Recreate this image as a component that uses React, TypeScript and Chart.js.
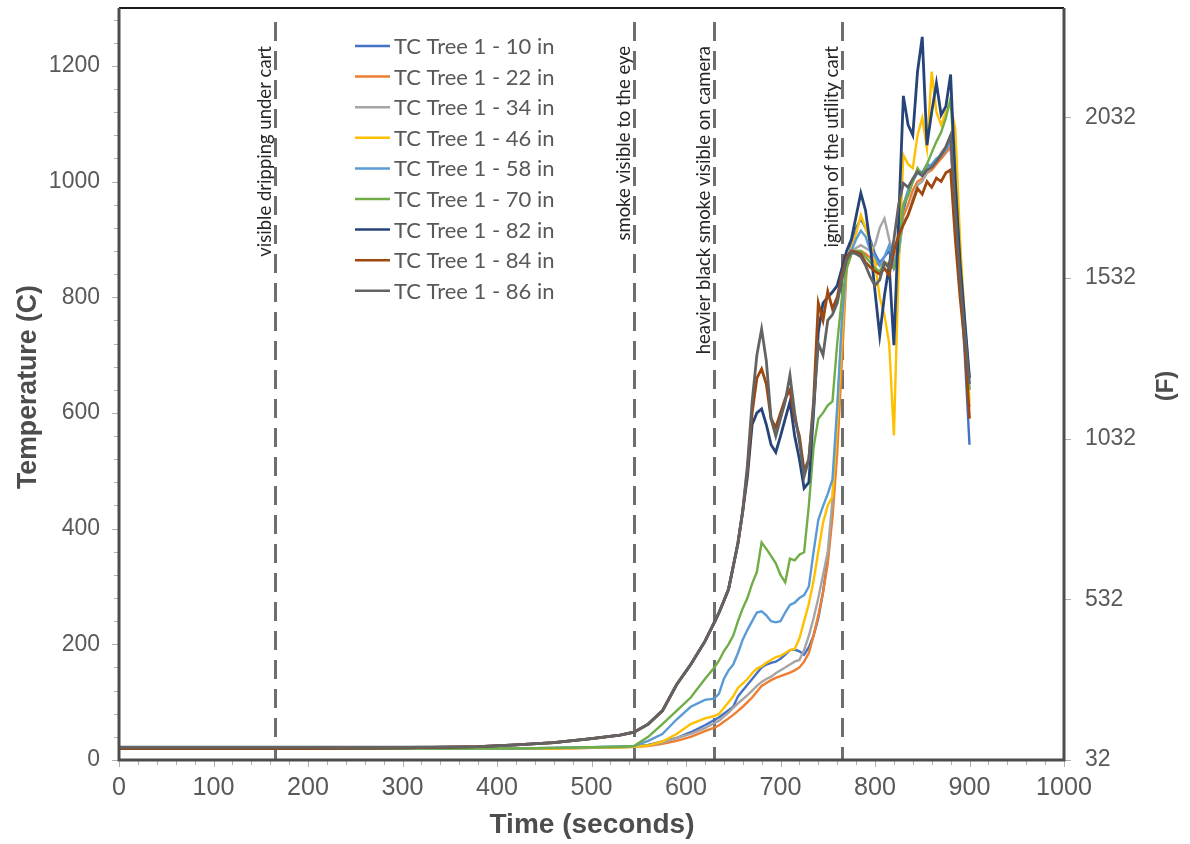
import React, { useEffect, useRef } from 'react';
import { Chart, registerables } from 'chart.js';

Chart.register(...registerables);

// Time axis (seconds)
const TIMES = [0, 100, 200, 300, 380, 420, 460, 500, 530, 545, 560, 575, 590, 605, 620,
  630, 635, 640, 645, 650, 655, 660, 665, 670, 675,
  680, 685, 690, 695, 700, 705, 710, 715, 720, 725,
  730, 735, 740, 745, 750, 755, 760, 765, 770, 775,
  780, 785, 790, 795, 800, 805, 810, 815, 820, 825,
  830, 835, 840, 845, 850, 855, 860, 865, 870, 875,
  880, 885, 890, 895, 900];

// Temperatures (C)
const TC10 = [20, 20, 20, 20, 20, 20, 21, 22, 23, 24, 26, 32, 38, 48, 60,
  69, 74, 80, 86, 92, 110, 120, 130, 140, 150,
  160, 165, 168, 170, 175, 182, 190, 191, 188, 182,
  195, 215, 245, 290, 350, 430, 560, 730, 860, 890,
  920, 935, 920, 900, 875, 860, 870, 880, 850, 870,
  950, 980, 1000, 1020, 1015, 1030, 1025, 1035, 1040, 1050,
  1060, 950, 830, 700, 545];
const TC22 = [20, 20, 20, 20, 20, 20, 20, 21, 22, 23, 24, 28, 33, 40, 50,
  56, 60, 66, 72, 78, 85, 92, 100, 108, 118,
  128, 133, 138, 142, 145, 148, 151, 155, 160, 170,
  185, 215, 250, 290, 340, 420, 530, 690, 850, 875,
  880, 880, 875, 868, 860, 855, 860, 858, 870, 890,
  940, 960, 985, 1000, 1005, 1015, 1020, 1030, 1040, 1050,
  1060, 950, 830, 720, 610];
const TC34 = [20, 20, 20, 20, 20, 20, 20, 21, 22, 23, 25, 30, 38, 45, 55,
  64, 68, 75, 82, 90, 98, 105, 112, 120, 128,
  135, 140, 144, 150, 155, 160, 165, 170, 173, 190,
  215, 245, 280, 320, 360, 450, 600, 750, 860, 880,
  885, 890, 885, 880, 890, 920, 936, 900, 870, 880,
  930, 942, 970, 994, 1000, 1015, 1025, 1035, 1050, 1060,
  1069, 960, 840, 750, 660];
const TC46 = [20, 20, 20, 20, 20, 20, 20, 21, 22, 23, 25, 32, 45, 62, 72,
  76, 80, 90, 100, 110, 125, 132, 140, 150, 158,
  162, 168, 173, 178, 180, 185, 190, 192, 210, 240,
  270, 310, 360, 410, 440, 455, 580, 730, 860, 885,
  910, 942, 920, 895, 860, 800, 769, 720, 561, 850,
  1046, 1030, 1023, 1080, 1110, 1057, 1190, 1120, 1098, 1120,
  1133, 1090, 900, 760, 620];
const TC58 = [20, 20, 20, 20, 20, 20, 21, 22, 23, 24, 33, 45, 70, 92, 104,
  106, 115, 140, 155, 165, 185, 208, 225, 240, 255,
  257, 250, 240, 238, 240, 255, 268, 272, 280, 285,
  300, 360, 415, 439, 460, 485, 610, 760, 860, 880,
  900, 915, 905, 880, 870, 855, 870, 890, 860, 880,
  960, 985, 1000, 1015, 1010, 1025, 1030, 1040, 1045, 1055,
  1070, 960, 840, 740, 640];
const TC70 = [20, 20, 20, 20, 20, 20, 21, 22, 23, 24, 40, 62, 85, 108, 140,
  160, 172, 188, 200, 215, 240, 262, 280, 305, 325,
  376, 365, 353, 340, 320, 307, 348, 345, 355, 359,
  440, 540, 590, 600, 613, 620, 720, 800, 850, 875,
  880, 880, 870, 860, 850, 845, 860, 855, 850, 880,
  960, 975, 1000, 1023, 1010, 1030, 1050, 1069, 1085, 1110,
  1144, 1000, 850, 750, 640];
const TC82 = [20, 20, 20, 21, 23, 26, 30, 37, 43, 48, 62, 85, 130, 165, 205,
  238, 255, 275, 295, 335, 375, 430, 490, 580, 600,
  607, 580, 545, 532, 560, 590, 619, 560, 520, 470,
  480, 600, 740, 790, 800, 809, 820, 850, 880, 900,
  940, 980, 950, 890, 810, 734, 803, 855, 717, 931,
  1148, 1098, 1080, 1190, 1250, 1063, 1120, 1170, 1115, 1130,
  1185, 1000, 860, 760, 660];
const TC84 = [20, 20, 20, 21, 23, 26, 30, 37, 43, 48, 62, 85, 130, 165, 205,
  238, 255, 275, 295, 335, 375, 430, 500, 600, 660,
  676, 650, 590, 575, 600, 625, 640, 590, 560, 500,
  520, 620, 790, 760, 810, 780, 800, 840, 870, 880,
  878, 875, 860, 852, 845, 840, 850, 838, 880, 907,
  925, 942, 965, 988, 978, 1000, 990, 1006, 1000, 1015,
  1020, 900, 800, 720, 590];
const TC86 = [22, 22, 22, 22, 23, 26, 30, 37, 43, 48, 62, 85, 130, 165, 205,
  238, 255, 275, 295, 335, 375, 430, 510, 620, 700,
  745, 690, 590, 560, 590, 620, 665, 600, 550, 490,
  520, 610, 720, 700, 760, 770, 790, 830, 865, 878,
  875, 870, 855, 835, 820, 830, 860, 850, 900, 960,
  997, 990, 1005, 1017, 1010, 1020, 1025, 1035, 1046, 1060,
  1080, 950, 830, 740, 650];

const SERIES_VALUES = [TC10, TC22, TC34, TC46, TC58, TC70, TC82, TC84, TC86];
const SERIES_LABELS = ['TC Tree 1 - 10 in', 'TC Tree 1 - 22 in', 'TC Tree 1 - 34 in',
  'TC Tree 1 - 46 in', 'TC Tree 1 - 58 in', 'TC Tree 1 - 70 in', 'TC Tree 1 - 82 in',
  'TC Tree 1 - 84 in', 'TC Tree 1 - 86 in'];
const SERIES_COLORS = ['#4472C4', '#ED7D31', '#A5A5A5', '#FFC000', '#5B9BD5', '#70AD47',
  '#264478', '#9E480E', '#636363'];

const EVENT_TIMES = [165, 545, 630, 765];
const EVENT_LABELS = ['visible dripping under cart', 'smoke visible to the eye',
  'heavier black smoke visible on camera', 'ignition of the utility cart'];

const X_TICKS = [0, 100, 200, 300, 400, 500, 600, 700, 800, 900, 1000];
const C_TICKS = [0, 200, 400, 600, 800, 1000, 1200];
const F_TICKS = [32, 532, 1032, 1532, 2032];

const C_MAX = 1300;
const F_MIN = 32;
const F_MAX = C_MAX * 1.8 + 32;

const TICK_COLOR = '#595959';
const AREA = { left: 119, top: 8, right: 1064, bottom: 760 };

function drawFitted(ctx: CanvasRenderingContext2D, text: string, cx: number, cy: number,
  font: string, targetW: number, rot: number, color: string) {
  ctx.save();
  ctx.font = font;
  const w = ctx.measureText(text).width;
  const s = targetW > 0 ? targetW / w : 1;
  ctx.translate(cx, cy);
  ctx.rotate(rot);
  ctx.scale(s, 1);
  ctx.fillStyle = color;
  ctx.textAlign = 'center';
  ctx.textBaseline = 'middle';
  ctx.fillText(text, 0, 0);
  ctx.restore();
}

const zeroPad = (s: any) => {
  s.paddingTop = 0;
  s.paddingBottom = 0;
  s.paddingLeft = 0;
  s.paddingRight = 0;
};

const decorPlugin = {
  id: 'decor',
  beforeDatasetsDraw(chart: any) {
    const { ctx, chartArea: a, scales } = chart;
    const x = scales.x;
    ctx.save();
    ctx.strokeStyle = '#6e6e6e';
    ctx.lineWidth = 3;
    ctx.setLineDash([19, 10]);
    EVENT_TIMES.forEach((t) => {
      const px = Math.round(x.getPixelForValue(t)) + 0.5;
      ctx.beginPath();
      ctx.moveTo(px, a.top + 14);
      ctx.lineTo(px, a.bottom);
      ctx.stroke();
    });
    ctx.restore();
  },
  afterDatasetsDraw(chart: any) {
    const { ctx, chartArea: a, scales } = chart;
    const x = scales.x;
    const y = scales.y;
    const yF = scales.yF;
    ctx.save();

    // event labels
    ctx.fillStyle = '#262626';
    ctx.font = "18.5px Lato, 'Open Sans', sans-serif";
    ctx.textAlign = 'right';
    ctx.textBaseline = 'middle';
    EVENT_TIMES.forEach((t, i) => {
      const px = x.getPixelForValue(t);
      ctx.save();
      ctx.translate(px - 10, 46);
      ctx.rotate(-Math.PI / 2);
      ctx.fillText(EVENT_LABELS[i], 0, 0);
      ctx.restore();
    });

    // legend
    ctx.font = "22px Lato, 'Open Sans', sans-serif";
    ctx.textAlign = 'left';
    SERIES_LABELS.forEach((lab, i) => {
      const ly = 46 + i * 30.6;
      ctx.strokeStyle = SERIES_COLORS[i];
      ctx.lineWidth = 2.5;
      ctx.beginPath();
      ctx.moveTo(355, ly);
      ctx.lineTo(390, ly);
      ctx.stroke();
      ctx.fillStyle = TICK_COLOR;
      ctx.fillText(lab, 394, ly + 1);
    });

    // tick marks
    ctx.strokeStyle = '#b0b0b0';
    ctx.lineWidth = 1;
    for (let v = 0; v <= 1000; v += 20) {
      const px = Math.round(x.getPixelForValue(v)) + 0.5;
      const len = v % 100 === 0 ? 7 : 5;
      ctx.beginPath();
      ctx.moveTo(px, a.bottom);
      ctx.lineTo(px, a.bottom + len);
      ctx.stroke();
    }
    for (let v = 0; v <= 1280; v += 40) {
      const py = Math.round(y.getPixelForValue(v)) + 0.5;
      const len = v % 200 === 0 ? 7 : 5;
      ctx.beginPath();
      ctx.moveTo(a.left - len, py);
      ctx.lineTo(a.left, py);
      ctx.stroke();
    }
    F_TICKS.forEach((f) => {
      const py = Math.round(yF.getPixelForValue(f)) + 0.5;
      ctx.beginPath();
      ctx.moveTo(a.right, py);
      ctx.lineTo(a.right + 7, py);
      ctx.stroke();
    });

    // frame
    ctx.setLineDash([]);
    ctx.strokeStyle = '#1a1a1a';
    ctx.lineWidth = 2;
    ctx.beginPath();
    ctx.moveTo(a.left, a.top);
    ctx.lineTo(a.right, a.top);
    ctx.stroke();
    ctx.strokeStyle = '#4d4d4d';
    ctx.lineWidth = 3;
    ctx.beginPath();
    ctx.moveTo(a.left, a.top);
    ctx.lineTo(a.left, a.bottom);
    ctx.lineTo(a.right, a.bottom);
    ctx.lineTo(a.right, a.top);
    ctx.stroke();
    ctx.restore();

    // axis titles
    drawFitted(ctx, 'Temperature (C)', 29, 387, "bold 27px 'Liberation Sans Narrow', 'Liberation Sans', sans-serif", 204, -Math.PI / 2, '#4d4d4d');
    drawFitted(ctx, 'Time (seconds)', 592, 826, "bold 27px 'Liberation Sans Narrow', 'Liberation Sans', sans-serif", 205, 0, '#4d4d4d');
    drawFitted(ctx, '(F)', 1166, 386, "bold 24px 'Liberation Sans', sans-serif", 0, -Math.PI / 2, '#4d4d4d');

    // x tick labels (condensed)
    X_TICKS.forEach((v) => {
      const px = x.getPixelForValue(v);
      const txt = String(v);
      drawFitted(ctx, txt, px, 788, "26px 'Liberation Sans Narrow', 'Liberation Sans', sans-serif", txt.length * 14, 0, TICK_COLOR);
    });
  },
};

export default function App() {
  const ref = useRef<HTMLCanvasElement | null>(null);
  useEffect(() => {
    if (!ref.current) return;
    const datasets = SERIES_VALUES.map((vals, i) => ({
      label: SERIES_LABELS[i],
      data: TIMES.map((t, k) => ({ x: t, y: vals[k] })),
      borderColor: SERIES_COLORS[i],
      backgroundColor: SERIES_COLORS[i],
      borderWidth: i >= 6 ? 2.8 : 2.4,
      pointRadius: 0,
      tension: 0,
      fill: false,
      order: SERIES_VALUES.length - i,
      yAxisID: 'y',
    }));
    const chart: any = new Chart(ref.current, {
      type: 'line',
      data: { datasets },
      options: {
        animation: false,
        responsive: false,
        devicePixelRatio: 1,
        layout: { padding: { top: AREA.top, left: 0, right: 0, bottom: 0 }, autoPadding: false },
        plugins: { legend: { display: false }, tooltip: { enabled: false } },
        scales: {
          x: {
            type: 'linear',
            position: 'bottom',
            min: 0,
            max: 1000,
            grid: { display: false, drawTicks: false },
            border: { display: false },
            ticks: { display: false, stepSize: 100 },
            afterFit: (s: any) => { s.height = 844 - AREA.bottom; zeroPad(s); },
          },
          y: {
            type: 'linear',
            position: 'left',
            min: 0,
            max: C_MAX,
            grid: { display: false, drawTicks: false },
            border: { display: false },
            afterBuildTicks: (s: any) => { s.ticks = C_TICKS.map((v) => ({ value: v })); },
            ticks: {
              color: TICK_COLOR,
              padding: 19,
              font: { family: "'Liberation Sans', Arial, sans-serif", size: 23 },
              callback: (v: any) => String(v),
            },
            afterFit: (s: any) => { s.width = AREA.left; zeroPad(s); },
          },
          yF: {
            type: 'linear',
            position: 'right',
            min: F_MIN,
            max: F_MAX,
            grid: { display: false, drawTicks: false },
            border: { display: false },
            afterBuildTicks: (s: any) => { s.ticks = F_TICKS.map((v) => ({ value: v })); },
            ticks: {
              color: TICK_COLOR,
              padding: 21,
              font: { family: "'Liberation Sans', Arial, sans-serif", size: 23 },
              callback: (v: any) => String(v),
            },
            afterFit: (s: any) => { s.width = 1190 - AREA.right; zeroPad(s); },
          },
        },
      },
      plugins: [decorPlugin],
    });
    return () => chart.destroy();
  }, []);
  return (
    <div style={{ position: 'absolute', left: 0, top: 0, width: 1190, height: 844, background: '#fff' }}>
      <canvas ref={ref} width={1190} height={844} style={{ display: 'block' }} />
    </div>
  );
}
